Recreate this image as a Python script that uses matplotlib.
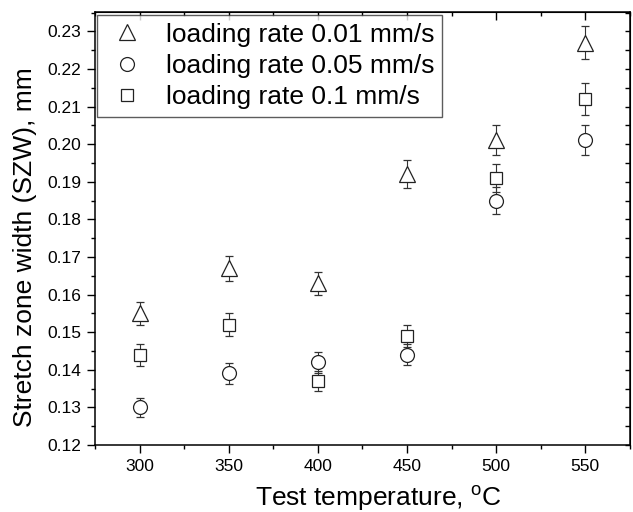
import matplotlib
matplotlib.use("Agg")
import matplotlib.pyplot as plt
from matplotlib.lines import Line2D
from matplotlib.ticker import MultipleLocator, FormatStrFormatter

plt.rcParams["font.family"] = ["Liberation Sans", "DejaVu Sans"]
plt.rcParams["mathtext.fontset"] = "custom"
plt.rcParams["mathtext.rm"] = "Liberation Sans"

# test temperatures, deg C
temps = [300, 350, 400, 450, 500, 550]

# stretch zone width (mm), one list per loading rate
szw_001 = [0.155, 0.167, 0.163, 0.192, 0.201, 0.227]
szw_005 = [0.130, 0.139, 0.142, 0.144, 0.185, 0.201]
szw_01 = [0.144, 0.152, 0.137, 0.149, 0.191, 0.212]

# error bar half-heights
err_001 = [0.0030, 0.0033, 0.0031, 0.0037, 0.0040, 0.0044]
err_005 = [0.0025, 0.0027, 0.0028, 0.0028, 0.0036, 0.0040]
err_01 = [0.0029, 0.0030, 0.0027, 0.0030, 0.0038, 0.0042]

labels = ["loading rate 0.01 mm/s", "loading rate 0.05 mm/s", "loading rate 0.1 mm/s"]

series = [
    (szw_001, err_001, "^", 11),
    (szw_005, err_005, "o", 10),
    (szw_01, err_01, "s", 9),
]

fig = plt.figure(figsize=(6.33, 5.12), dpi=100)
ax = fig.add_axes([0.150, 0.131, 0.845, 0.846])

for vals, errs, mk, ms in series:
    ax.errorbar(temps, vals, yerr=errs, fmt=mk, ms=ms, mfc="white", mec="#222222",
                mew=0.9, ecolor="#333333", elinewidth=0.8, capsize=3.2, capthick=0.8,
                zorder=3)

ax.set_xlim(275, 575)
ax.set_ylim(0.12, 0.2352)
ax.xaxis.set_major_locator(MultipleLocator(50))
ax.xaxis.set_minor_locator(MultipleLocator(25))
ax.yaxis.set_major_locator(MultipleLocator(0.01))
ax.yaxis.set_minor_locator(MultipleLocator(0.005))
ax.yaxis.set_major_formatter(FormatStrFormatter("%.2f"))

for s in ax.spines.values():
    s.set_linewidth(1.1)
ax.tick_params(which="major", direction="out", length=5.5, width=1.0, labelsize=12.5, pad=4.5)
ax.tick_params(which="minor", direction="out", length=3, width=1.0)

# Origin style: inward ticks on top and right
top = ax.secondary_xaxis("top")
top.xaxis.set_major_locator(MultipleLocator(50))
top.xaxis.set_minor_locator(MultipleLocator(25))
top.tick_params(which="major", direction="in", length=5.5, width=1.0, labeltop=False)
top.tick_params(which="minor", direction="in", length=3, width=1.0)
right = ax.secondary_yaxis("right")
right.yaxis.set_major_locator(MultipleLocator(0.01))
right.yaxis.set_minor_locator(MultipleLocator(0.005))
right.tick_params(which="major", direction="in", length=3.5, width=1.0, labelright=False)
right.tick_params(which="minor", direction="in", length=3.5, width=1.0)

ax.set_xlabel("Test temperature, $^{\\mathrm{o}}$C", fontsize=19)
ax.set_ylabel("Stretch zone width (SZW), mm", fontsize=19)
ax.xaxis.set_label_coords(0.529, -0.088)
ax.yaxis.set_label_coords(-0.109, 0.456)

handles = [Line2D([], [], ls="none", marker=mk, ms=ms, mfc="white", mec="#222222", mew=0.9)
           for _, _, mk, ms in series]
leg = ax.legend(handles, labels, loc="upper left", bbox_to_anchor=(0.004, 0.993),
                borderaxespad=0, fontsize=19, frameon=True, fancybox=False,
                labelspacing=0.27, handletextpad=0.6, borderpad=0.3, handlelength=1.7)
leg.get_frame().set_edgecolor("#333333")
leg.get_frame().set_linewidth(1.0)

fig.savefig("out.png", dpi=100)
